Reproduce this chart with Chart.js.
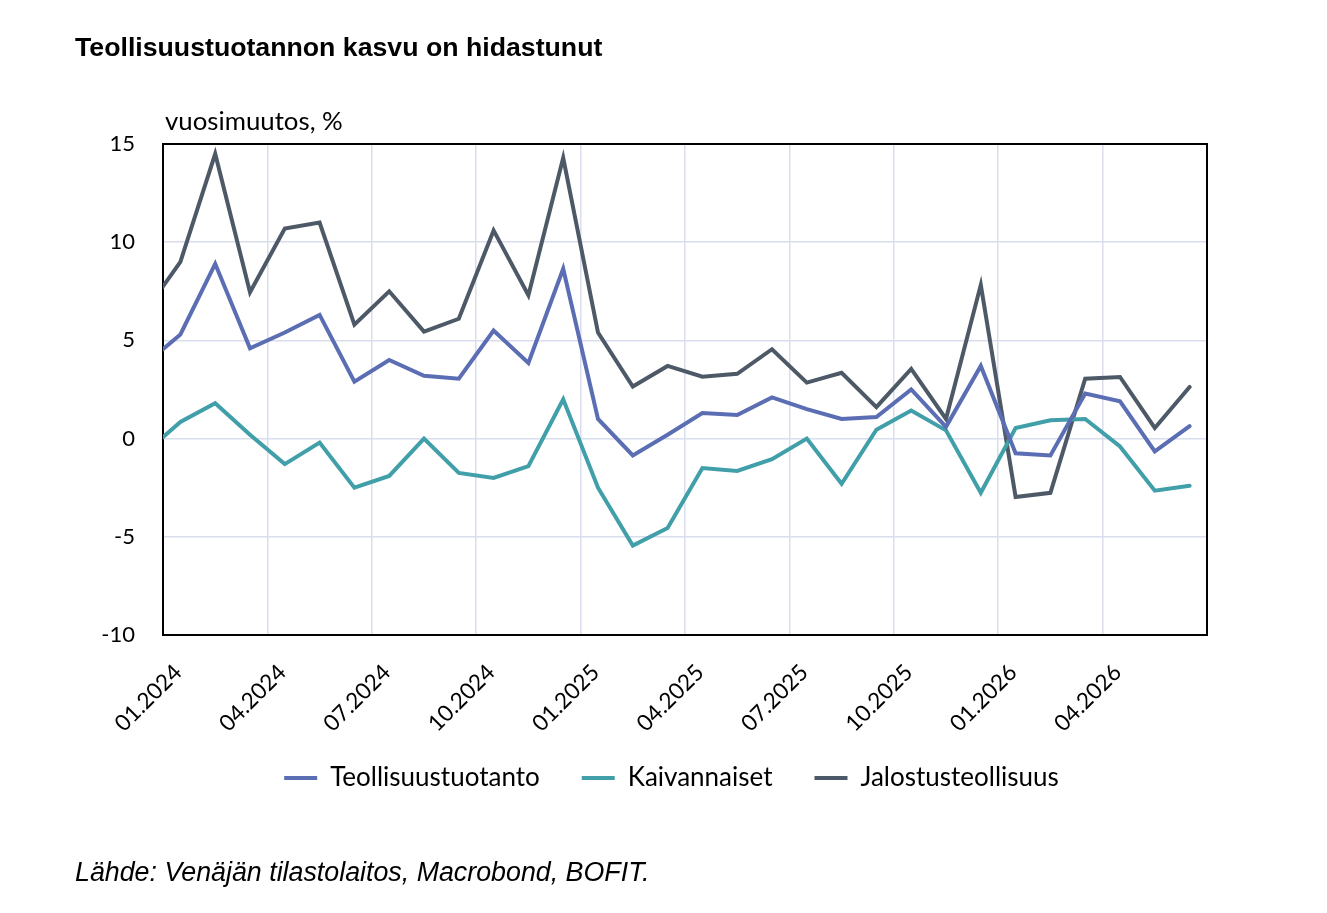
<!DOCTYPE html>
<html>
<head>
<meta charset="utf-8">
<script src="https://cdn.jsdelivr.net/npm/chart.js@4.4.1/dist/chart.umd.min.js"></script>
<style>
  html, body { margin: 0; padding: 0; background: #fff; }
  #wrap { position: relative; width: 1327px; height: 913px; overflow: hidden; }
  #c { position: absolute; left: 0; top: 0; }
  .txt { position: absolute; color: #000; white-space: nowrap; line-height: 1.2; }
  #title { left: 75px; top: 31px; font: bold 26.7px "Liberation Sans", Arial, sans-serif; line-height: 1.2; }
  #unit { left: 165px; top: 105px; font: 25.8px Lato, "Noto Sans", sans-serif; line-height: 1.2; }
  #source { left: 75px; top: 856px; font: italic 26.8px "Liberation Sans", Arial, sans-serif; line-height: 1.2; }
</style>
</head>
<body>
<div id="wrap">
  <canvas id="c" width="1327" height="913"></canvas>
  <div class="txt" id="title">Teollisuustuotannon kasvu on hidastunut</div>
  <div class="txt" id="unit">vuosimuutos, %</div>
  <div class="txt" id="source">Lähde: Venäjän tilastolaitos, Macrobond, BOFIT.</div>
</div>
<script>
// Months of the data (first one lies just outside the left edge of the plot)
const months = [
  "12.2023",
  "01.2024","02.2024","03.2024","04.2024","05.2024","06.2024",
  "07.2024","08.2024","09.2024","10.2024","11.2024","12.2024",
  "01.2025","02.2025","03.2025","04.2025","05.2025","06.2025",
  "07.2025","08.2025","09.2025","10.2025","11.2025","12.2025",
  "01.2026","02.2026","03.2026","04.2026","05.2026","06.2026"
];
const tickLabels = ["01.2024","04.2024","07.2024","10.2024","01.2025","04.2025","07.2025","10.2025","01.2026","04.2026"];

const teollisuustuotanto = [3.8,
  5.3, 8.9, 4.6, 5.4, 6.3, 2.9, 4.0, 3.2, 3.05, 5.5, 3.85, 8.65,
  1.0, -0.86, 0.2, 1.3, 1.2, 2.1, 1.5, 1.0, 1.1, 2.5, 0.6, 3.7,
  -0.75, -0.86, 2.3, 1.9, -0.65, 0.63];
const kaivannaiset = [-0.7,
  0.85, 1.8, 0.2, -1.3, -0.2, -2.5, -1.9, 0.0, -1.75, -2.0, -1.4, 2.0,
  -2.5, -5.45, -4.55, -1.5, -1.65, -1.05, 0.0, -2.3, 0.45, 1.43, 0.42, -2.76,
  0.54, 0.93, 1.0, -0.4, -2.65, -2.4];
const jalostusteollisuus = [6.5,
  9.0, 14.5, 7.45, 10.7, 11.0, 5.8, 7.5, 5.45, 6.1, 10.6, 7.3, 14.3,
  5.4, 2.65, 3.7, 3.15, 3.3, 4.55, 2.85, 3.35, 1.6, 3.55, 1.0, 7.83,
  -2.97, -2.76, 3.05, 3.14, 0.54, 2.63];

// x: months counted from start of 01.2024; each value sits mid-month
const toPoints = arr => arr.map((v, i) => ({ x: i - 0.5, y: v }));

const frame = {
  id: 'frame',
  beforeDatasetsDraw(chart) {
    const a = chart.chartArea, ctx = chart.ctx;
    ctx.save();
    ctx.strokeStyle = '#000';
    ctx.lineWidth = 2;
    ctx.strokeRect(a.left, a.top, a.right - a.left, a.bottom - a.top);
    ctx.restore();
  }
};

// nudge the legend a little after layout
const legendNudge = {
  id: 'legendNudge',
  afterLayout(chart) {
    const lg = chart.legend;
    if (lg) { lg.top -= 18; lg.bottom -= 18; lg.left += 18; lg.right += 18; }
  }
};

const gridColor = '#d9ddee';

function ds(label, data, color) {
  return {
    label, data: toPoints(data),
    borderColor: color, backgroundColor: color,
    borderWidth: 4, pointRadius: 0, pointHoverRadius: 0,
    tension: 0, fill: false, borderCapStyle: 'round',
    clip: { left: 0, top: false, right: false, bottom: false }
  };
}

new Chart(document.getElementById('c'), {
  type: 'line',
  data: {
    datasets: [
      ds('Teollisuustuotanto', teollisuustuotanto, '#5b6db3'),
      ds('Kaivannaiset', kaivannaiset, '#409fa8'),
      ds('Jalostusteollisuus', jalostusteollisuus, '#4e5967')
    ]
  },
  options: {
    responsive: false,
    animation: false,
    events: [],
    layout: { padding: { left: 100, right: 120, top: 144, bottom: 94 } },
    plugins: {
      title: { display: false },
      tooltip: { enabled: false },
      legend: {
        position: 'bottom',
        labels: {
          font: { family: 'Lato', size: 26 },
          color: '#000',
          usePointStyle: true,
          pointStyle: 'line',
          pointStyleWidth: 33,
          boxHeight: 4,
          padding: 42
        }
      }
    },
    scales: {
      x: {
        type: 'linear',
        min: 0, max: 30,
        afterBuildTicks: s => { s.ticks = tickLabels.map((t, i) => ({ value: i * 3 })); },
        afterFit: s => { s.height = 106; },
        grid: { color: gridColor, lineWidth: 1.5, drawTicks: false },
        border: { display: false },
        ticks: {
          autoSkip: false, maxRotation: 45, minRotation: 45,
          font: { family: 'Lato', size: 22.5 }, color: '#000', padding: 24, labelOffset: 15,
          callback: v => tickLabels[Math.round(v / 3)] ?? ''
        }
      },
      y: {
        min: -10, max: 15,
        afterFit: s => { s.width = 63; },
        grid: { color: gridColor, lineWidth: 1.5, drawTicks: false },
        border: { display: false },
        ticks: { stepSize: 5, font: { family: 'Lato', size: 22 }, color: '#000', padding: 28 }
      }
    }
  },
  plugins: [frame, legendNudge]
});
</script>
</body>
</html>
